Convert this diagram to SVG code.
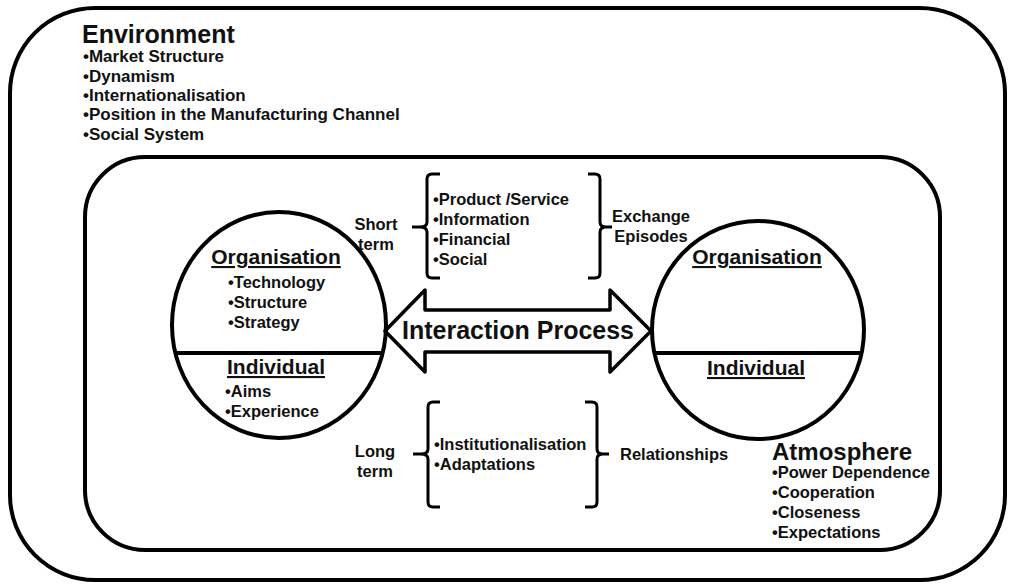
<svg xmlns="http://www.w3.org/2000/svg" width="1009" height="585" viewBox="0 0 1009 585">
<style>
.frame{fill:none;stroke:#000;stroke-width:4}
.ln{fill:none;stroke:#000;stroke-width:3.5;stroke-linecap:round;stroke-linejoin:round}
.br{fill:none;stroke:#000;stroke-width:3}
text{font-family:"Liberation Sans",Arial,sans-serif;font-weight:bold;fill:#111}
.t{font-size:16.5px}
.e{font-size:17px}
.h{font-size:25px}
.u{font-size:21px;text-decoration:underline}
.m{text-anchor:middle}
</style>
<rect width="1009" height="585" fill="#fff"/>
<g id="environment">
<rect class="frame" x="10" y="8" width="995" height="572" rx="85" ry="85"/>
<text class="h" x="82" y="43">Environment</text>
<text class="e" x="83" y="62">•Market Structure</text>
<text class="e" x="83" y="82">•Dynamism</text>
<text class="e" x="83" y="101">•Internationalisation</text>
<text class="e" x="83" y="120">•Position in the Manufacturing Channel</text>
<text class="e" x="83" y="140">•Social System</text>
</g>
<g id="atmosphere">
<rect class="frame" x="85" y="157" width="855" height="393" rx="60" ry="60"/>
<text x="772" y="460" style="font-size:24px">Atmosphere</text>
<text class="t" x="772" y="478">•Power Dependence</text>
<text class="t" x="772" y="498">•Cooperation</text>
<text class="t" x="772" y="518">•Closeness</text>
<text class="t" x="772" y="538">•Expectations</text>
</g>
<g id="left-party">
<ellipse class="frame" cx="279" cy="325" rx="107" ry="113"/>
<line class="frame" x1="175" y1="353" x2="383" y2="353"/>
<text class="u m" x="276" y="264">Organisation</text>
<text class="t" x="228" y="288">•Technology</text>
<text class="t" x="228" y="308">•Structure</text>
<text class="t" x="228" y="328">•Strategy</text>
<text class="u m" x="276" y="374">Individual</text>
<text class="t" x="225" y="397">•Aims</text>
<text class="t" x="225" y="417">•Experience</text>
</g>
<g id="right-party">
<ellipse class="frame" cx="758" cy="330" rx="106" ry="109"/>
<line class="frame" x1="654" y1="353" x2="862" y2="353"/>
<text class="u m" x="757" y="264">Organisation</text>
<text class="u m" x="756" y="375">Individual</text>
</g>
<g id="interaction-process">
<polygon class="ln" points="385,331 425,290 425,310 610,310 610,290 651,331 610,372 610,352 425,352 425,372"/>
<text class="m" x="518" y="339" style="font-size:25px">Interaction Process</text>
</g>
<g id="exchange-episodes">
<path class="br" d="M440,174 H432 Q427,174 427,179 V222 Q427,227 420,227 H412 M420,227 Q427,227 427,232 V273 Q427,278 432,278 H440"/>
<path class="br" d="M588,174 H595 Q600,174 600,179 V222 Q600,227 606,227 H612 M606,227 Q600,227 600,232 V273 Q600,278 595,278 H588"/>
<text class="t m" x="376" y="230">Short</text>
<text class="t m" x="376" y="250">term</text>
<text class="t" x="433" y="205">•Product /Service</text>
<text class="t" x="433" y="225">•Information</text>
<text class="t" x="433" y="245">•Financial</text>
<text class="t" x="433" y="265">•Social</text>
<text class="t m" x="651" y="222">Exchange</text>
<text class="t m" x="651" y="242">Episodes</text>
</g>
<g id="relationships">
<path class="br" d="M440,402 H433 Q428,402 428,407 V449 Q428,454 421,454 H413 M421,454 Q428,454 428,459 V502 Q428,507 433,507 H440"/>
<path class="br" d="M585,402 H592 Q597,402 597,407 V449 Q597,454 603,454 H609 M603,454 Q597,454 597,459 V502 Q597,507 592,507 H585"/>
<text class="t m" x="375" y="457">Long</text>
<text class="t m" x="375" y="477">term</text>
<text class="t" x="434" y="450">•Institutionalisation</text>
<text class="t" x="434" y="470">•Adaptations</text>
<text class="t" x="620" y="460">Relationships</text>
</g>
</svg>
